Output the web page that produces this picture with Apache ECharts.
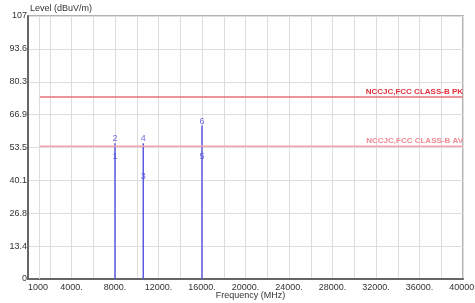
<!DOCTYPE html>
<html>
<head>
<meta charset="utf-8">
<style>
  html, body { margin: 0; padding: 0; background: #fff; }
  #chart { width: 475px; height: 303px; }
</style>
<script src="https://cdn.jsdelivr.net/npm/echarts@6/dist/echarts.min.js"></script>
</head>
<body>
<div id="chart"></div>
<script>
// x axis (MHz) and y axis (dBuV/m) ticks
const xMin = 0;
const xMax = 40000;
const xInterval = 2000;
const yMin = 0;
const yMax = 107;
const yInterval = 13.375;

// limit lines
const limitFreq = [1000, 40000];
const limitPK = [74, 74];
const limitAV = [54, 54];

// measured markers
const markerNo = ['1', '2', '3', '4', '5', '6'];
const markerFreq = [8000, 8000, 10600, 10600, 16000, 16000];
const markerLevel = [48.0, 55.2, 39.9, 55.2, 48.0, 62.4];

// vertical lines go up to the highest marker of each frequency
const peakFreq = [];
const peakLevel = [];
markerFreq.forEach((f, i) => {
  const k = peakFreq.indexOf(f);
  if (k < 0) { peakFreq.push(f); peakLevel.push(markerLevel[i]); }
  else if (markerLevel[i] > peakLevel[k]) peakLevel[k] = markerLevel[i];
});

const labelFont = { fontFamily: 'Liberation Sans, Arial, sans-serif', fontSize: 9, color: '#333' };

function limitData(levels, text, color) {
  return limitFreq.map((f, i) => {
    const item = { value: [f, levels[i]] };
    if (i === limitFreq.length - 1) {
      item.label = {
        show: true, formatter: text, position: [0, -1],
        align: 'right', verticalAlign: 'bottom',
        fontFamily: 'Liberation Sans, Arial, sans-serif',
        fontSize: 8, fontWeight: 'bold', color: color
      };
    }
    return item;
  });
}

const chart = echarts.init(document.getElementById('chart'));
chart.setOption({
  animation: false,
  title: {
    text: 'Level (dBuV/m)', left: 30, top: 4, padding: 0,
    textStyle: { fontFamily: 'Liberation Sans, Arial, sans-serif', fontSize: 9, fontWeight: 'normal', color: '#333' }
  },
  grid: {
    left: 28, right: 12, top: 16, bottom: 24,
    outerBoundsMode: 'none', containLabel: false,
    show: true, borderColor: '#999', borderWidth: 1.5
  },
  xAxis: {
    type: 'value', min: xMin, max: xMax, interval: xInterval,
    name: 'Frequency (MHz)', nameLocation: 'middle', nameGap: 12,
    nameMoveOverlap: false,
    nameTextStyle: Object.assign({ padding: [0, 0, 0, 10] }, labelFont),
    axisLine: { lineStyle: { color: '#666', width: 2 } },
    axisTick: { show: false },
    axisLabel: Object.assign({
      margin: 4,
      alignMinLabel: 'left',
      formatter: v => v === 0 ? '1000' : (v % 4000 === 0 ? v + '.' : '')
    }, labelFont),
    splitLine: { lineStyle: { color: '#ddd', width: 1 } }
  },
  yAxis: {
    type: 'value', min: yMin, max: yMax, interval: yInterval,
    axisLine: { show: true, lineStyle: { color: '#666', width: 2 } },
    axisTick: { show: false },
    axisLabel: Object.assign({
      margin: 1,
      formatter: v => String(+v.toFixed(1))
    }, labelFont),
    splitLine: { lineStyle: { color: '#ddd', width: 1 } }
  },
  series: [
    {
      type: 'line', data: limitData(limitPK, 'NCCJC,FCC CLASS-B PK', '#e0303c'),
      symbol: 'circle', symbolSize: 0, showSymbol: true,
      lineStyle: { color: '#e8707a', width: 1.5 },
      markLine: {
        silent: true, symbol: 'none', label: { show: false },
        lineStyle: { color: '#ddd', width: 1, type: 'solid' },
        data: [{ xAxis: limitFreq[0] }]
      }
    },
    {
      type: 'line', data: limitData(limitAV, 'NCCJC,FCC CLASS-B AV', '#f08a94'),
      symbol: 'circle', symbolSize: 0, showSymbol: true,
      lineStyle: { color: '#f4a4ac', width: 1.5 }
    },
    {
      type: 'bar', barWidth: 1.5,
      data: peakFreq.map((f, i) => [f, peakLevel[i]]),
      itemStyle: { color: '#5a5ae0' }
    },
    {
      type: 'scatter', symbolSize: 0,
      data: markerFreq.map((f, i) => [f, markerLevel[i], markerNo[i]]),
      label: {
        show: true, position: 'top', distance: 0,
        formatter: p => p.value[2],
        fontFamily: 'Liberation Sans, Arial, sans-serif', fontSize: 9, color: '#4a4ad8'
      }
    }
  ]
});
</script>
</body>
</html>
